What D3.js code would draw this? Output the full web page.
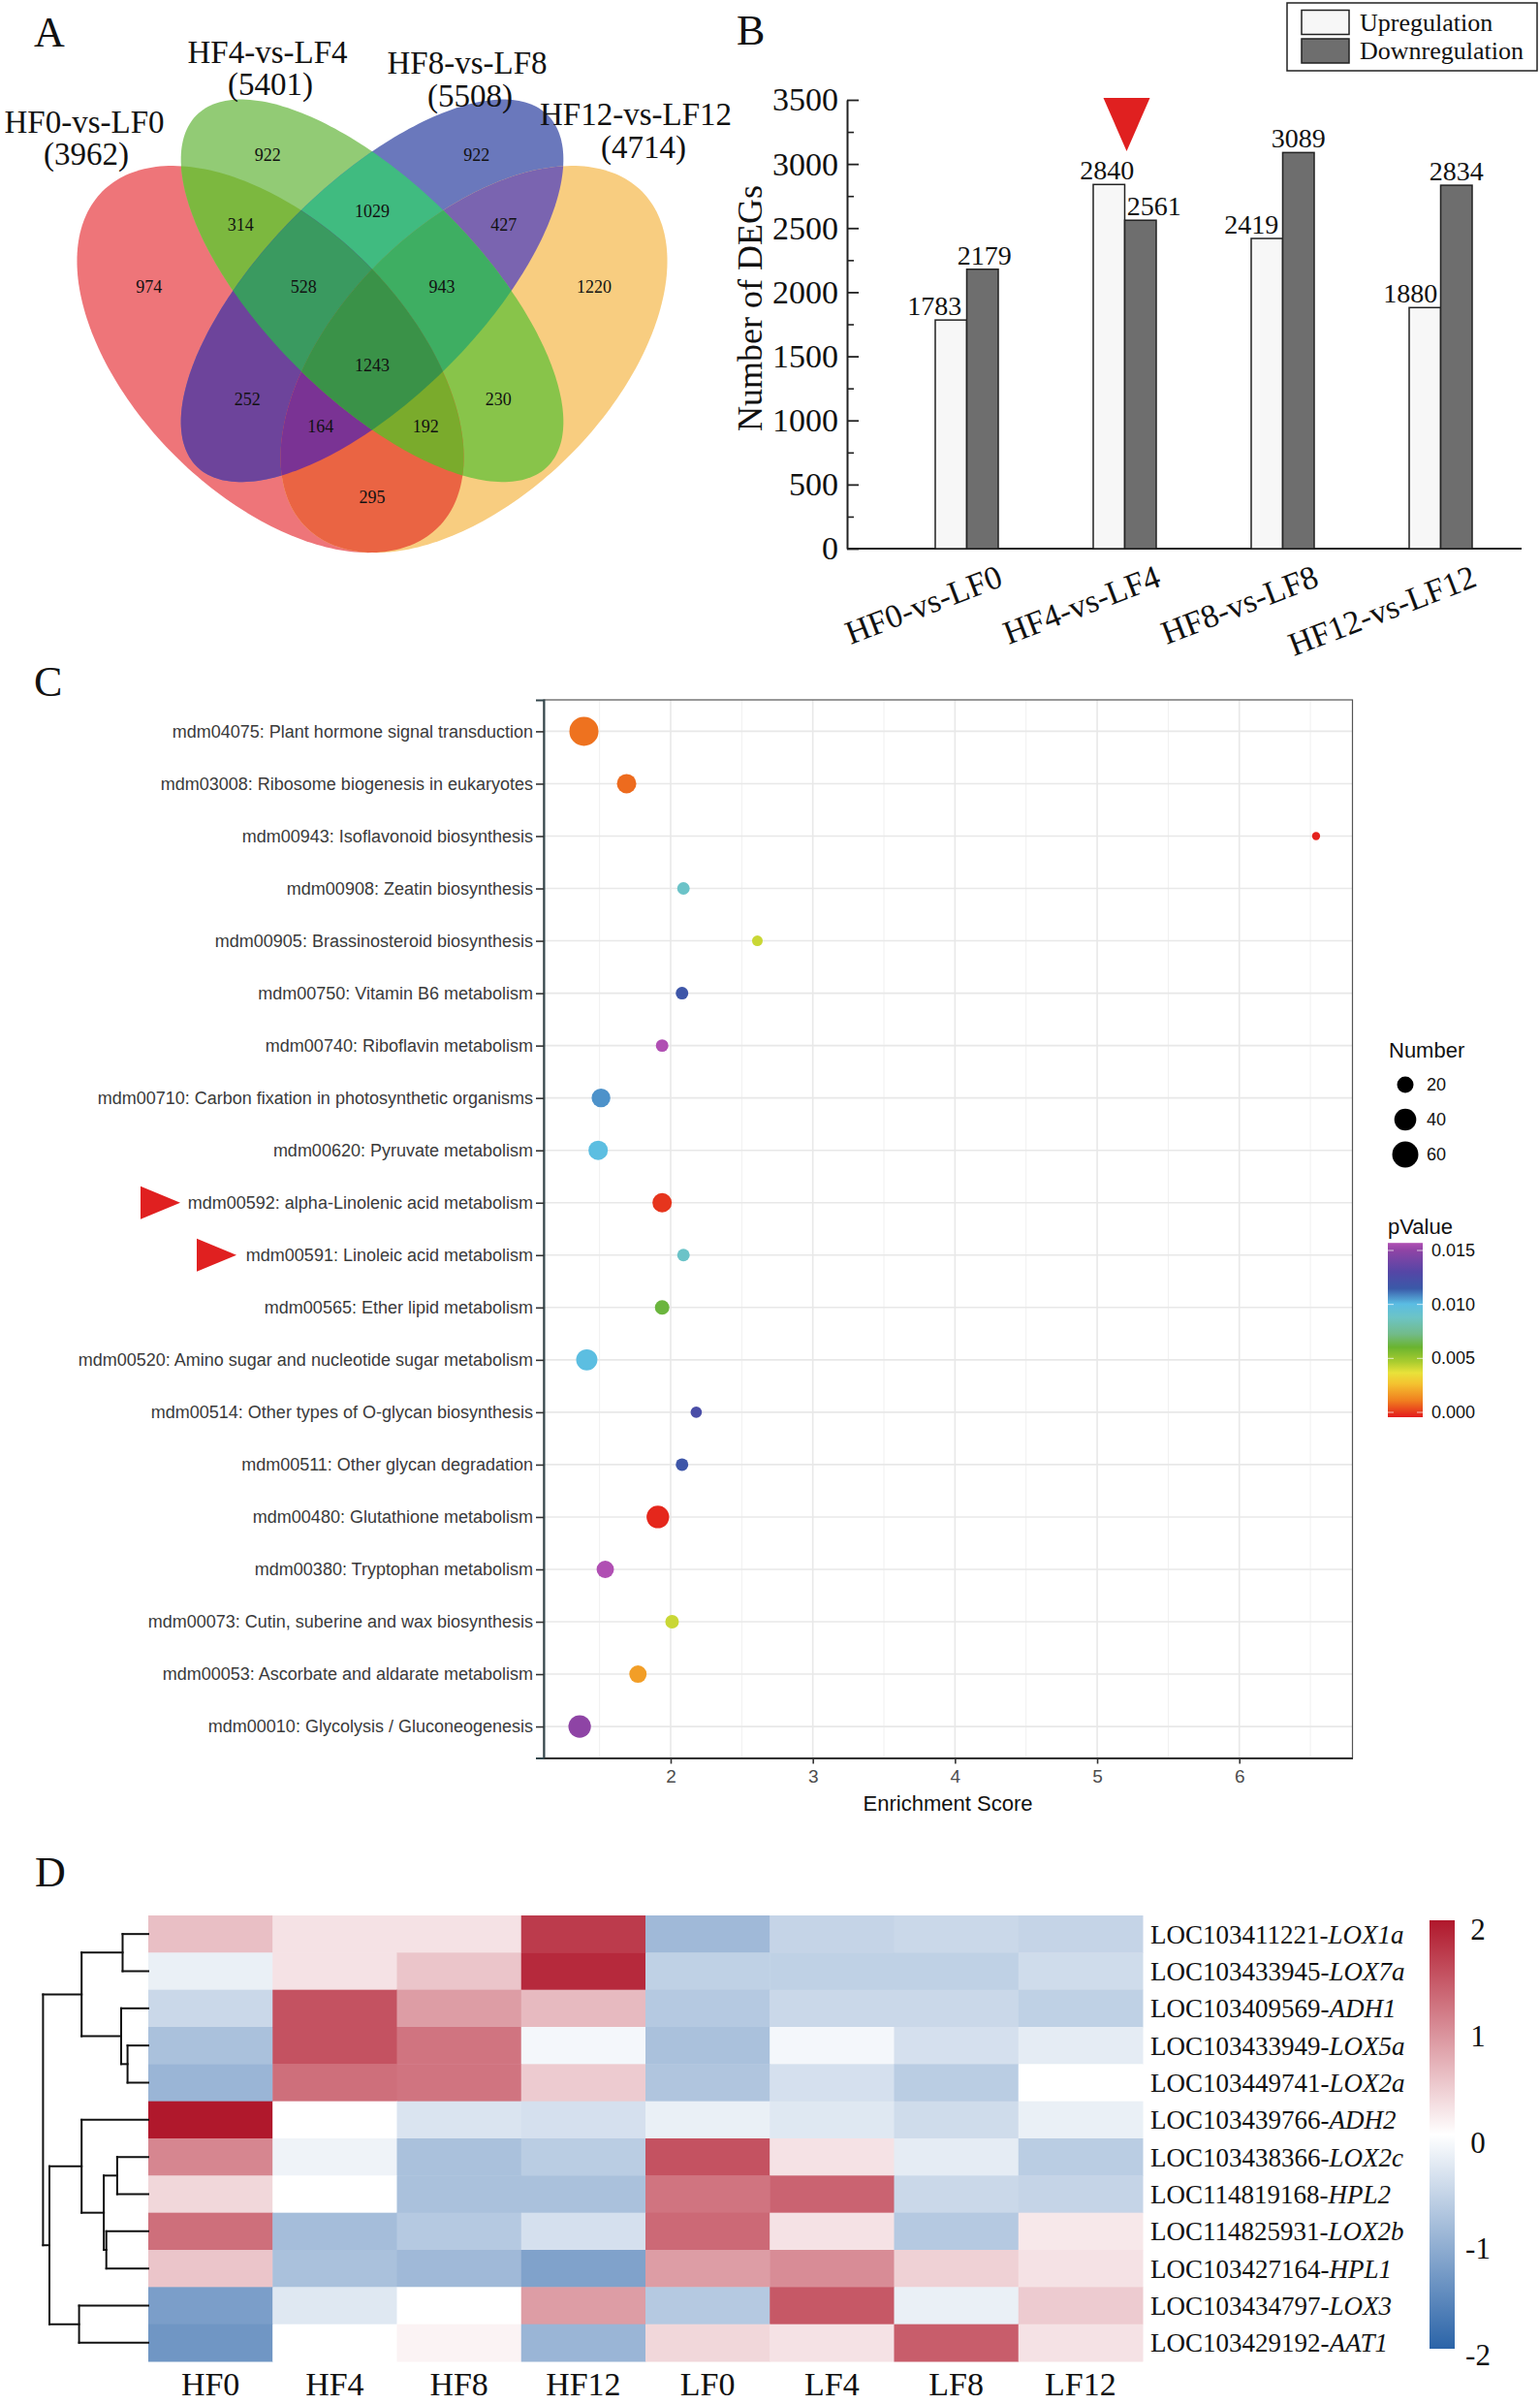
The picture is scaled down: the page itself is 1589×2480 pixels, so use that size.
<!DOCTYPE html>
<html>
<head>
<meta charset="utf-8">
<script src="https://cdn.jsdelivr.net/npm/d3@7"></script>
<style>
  body { margin: 0; background: #fff; }
  .serif { font-family: "Liberation Serif", "Times New Roman", serif; }
  .sans { font-family: "Liberation Sans", Arial, sans-serif; }
</style>
</head>
<body>
<script>
// ---------- A: Venn ----------
var vennSets = ["HF0-vs-LF0", "HF4-vs-LF4", "HF8-vs-LF8", "HF12-vs-LF12"];
var vennTotals = [3962, 5401, 5508, 4714];
// region counts, in the same order as vennRegions below
var vennCounts = [974, 922, 922, 1220, 314, 1029, 427, 528, 943, 1243, 252, 230, 164, 192, 295];

// ---------- B: DEG bars ----------
var comparisons = ["HF0-vs-LF0", "HF4-vs-LF4", "HF8-vs-LF8", "HF12-vs-LF12"];
var upCounts = [1783, 2840, 2419, 1880];
var downCounts = [2179, 2561, 3089, 2834];
var degTicks = [0, 500, 1000, 1500, 2000, 2500, 3000, 3500];

// ---------- C: KEGG bubbles ----------
var pathways = [
  "mdm04075: Plant hormone signal transduction",
  "mdm03008: Ribosome biogenesis in eukaryotes",
  "mdm00943: Isoflavonoid biosynthesis",
  "mdm00908: Zeatin biosynthesis",
  "mdm00905: Brassinosteroid biosynthesis",
  "mdm00750: Vitamin B6 metabolism",
  "mdm00740: Riboflavin metabolism",
  "mdm00710: Carbon fixation in photosynthetic organisms",
  "mdm00620: Pyruvate metabolism",
  "mdm00592: alpha-Linolenic acid metabolism",
  "mdm00591: Linoleic acid metabolism",
  "mdm00565: Ether lipid metabolism",
  "mdm00520: Amino sugar and nucleotide sugar metabolism",
  "mdm00514: Other types of O-glycan biosynthesis",
  "mdm00511: Other glycan degradation",
  "mdm00480: Glutathione metabolism",
  "mdm00380: Tryptophan metabolism",
  "mdm00073: Cutin, suberine and wax biosynthesis",
  "mdm00053: Ascorbate and aldarate metabolism",
  "mdm00010: Glycolysis / Gluconeogenesis"
];
var enrichScore = [1.39, 1.69, 6.54, 2.09, 2.61, 2.08, 1.94, 1.51, 1.49, 1.94, 2.09, 1.94, 1.41, 2.18, 2.08, 1.91, 1.54, 2.01, 1.77, 1.36];
var geneNumber = [65, 25, 2, 8, 5, 8, 8, 23, 25, 25, 8, 12, 31, 6, 8, 36, 19, 10, 19, 36];
var pValue = [0.0013, 0.0012, 0.0001, 0.0091, 0.0045, 0.0118, 0.0157, 0.0108, 0.0101, 0.0004, 0.0091, 0.0065, 0.0101, 0.0125, 0.0118, 0.0002, 0.0157, 0.0045, 0.0022, 0.0150];
var highlighted = ["mdm00592: alpha-Linolenic acid metabolism", "mdm00591: Linoleic acid metabolism"];
var sizeBreaks = [20, 40, 60];
var pBreaks = [0, 0.005, 0.010, 0.015];
var scoreTicks = [2, 3, 4, 5, 6];

// ---------- D: heatmap ----------
var samples = ["HF0", "HF4", "HF8", "HF12", "LF0", "LF4", "LF8", "LF12"];
var geneIds = ["LOC103411221", "LOC103433945", "LOC103409569", "LOC103433949", "LOC103449741", "LOC103439766",
               "LOC103438366", "LOC114819168", "LOC114825931", "LOC103427164", "LOC103434797", "LOC103429192"];
var geneSymbols = ["LOX1a", "LOX7a", "ADH1", "LOX5a", "LOX2a", "ADH2", "LOX2c", "HPL2", "LOX2b", "HPL1", "LOX3", "AAT1"];
var zScores = [
  [ 0.55,  0.25,  0.25,  1.70, -0.90, -0.55, -0.50, -0.55],
  [-0.20,  0.25,  0.50,  1.85, -0.60, -0.60, -0.60, -0.45],
  [-0.50,  1.50,  0.85,  0.60, -0.70, -0.50, -0.50, -0.60],
  [-0.80,  1.50,  1.20, -0.10, -0.80, -0.10, -0.40, -0.25],
  [-0.95,  1.25,  1.20,  0.45, -0.75, -0.40, -0.65,  0.00],
  [ 2.00,  0.00, -0.35, -0.40, -0.20, -0.30, -0.45, -0.20],
  [ 1.05, -0.15, -0.80, -0.65,  1.50,  0.25, -0.25, -0.65],
  [ 0.35,  0.00, -0.80, -0.80,  1.20,  1.35, -0.50, -0.55],
  [ 1.25, -0.85, -0.70, -0.40,  1.30,  0.25, -0.70,  0.20],
  [ 0.50, -0.80, -0.90, -1.20,  0.85,  1.00,  0.40,  0.25],
  [-1.25, -0.30,  0.00,  0.85, -0.70,  1.45, -0.20,  0.45],
  [-1.35,  0.00,  0.10, -0.95,  0.35,  0.25,  1.40,  0.25]
];
var zBreaks = [2, 1, 0, -1, -2];
// row clustering (merge heights)
var rowTree = { h: 108.6, children: [
  { h: 68.8, children: [
    { h: 26.5, children: [{ name: "LOX1a" }, { name: "LOX7a" }] },
    { h: 28, children: [{ name: "ADH1" }, { h: 21.4, children: [{ name: "LOX5a" }, { name: "LOX2a" }] }] }
  ] },
  { h: 102, children: [
    { h: 68.8, children: [
      { name: "ADH2" },
      { h: 45.9, children: [
        { h: 32.1, children: [{ name: "LOX2c" }, { name: "HPL2" }] },
        { h: 43.3, children: [{ name: "LOX2b" }, { name: "HPL1" }] }
      ] }
    ] },
    { h: 71.4, children: [{ name: "LOX3" }, { name: "AAT1" }] }
  ] }
] };

var width = 1589, height = 2480;
var svg = d3.select("body").append("svg")
    .attr("width", width)
    .attr("height", height)
    .style("display", "block");
svg.append("rect").attr("width", width).attr("height", height).attr("fill", "#fff");
var defs = svg.append("defs");

function panelLetter(t, x, y) {
  svg.append("text").attr("class", "serif").attr("x", x).attr("y", y)
    .attr("font-size", 44).attr("fill", "#111").text(t);
}

/* ================= A ================= */
panelLetter("A", 35, 48);

var vx = d3.scaleLinear().domain([0, 1]).range([34, 734]);
var vy = d3.scaleLinear().domain([0, 1]).range([701, 1]);
// one ellipse per set (HF0 red, HF4 green, HF8 blue, HF12 orange)
var ellipses = [
  { cx: 0.35, cy: 0.472, rot: 135, a: 0.35, b: 0.2 },
  { cx: 0.50, cy: 0.573, rot: 135, a: 0.366, b: 0.158 },
  { cx: 0.50, cy: 0.573, rot: 45, a: 0.366, b: 0.158 },
  { cx: 0.65, cy: 0.472, rot: 45, a: 0.35, b: 0.2 }
];
// membership of each counted region + its fill
var vennRegions = [[0], [1], [2], [3], [0, 1], [1, 2], [2, 3], [0, 1, 2], [1, 2, 3], [0, 1, 2, 3],
                   [0, 2], [1, 3], [0, 2, 3], [0, 1, 3], [0, 3]];
var regionColors = ["#ee7579", "#92cb75", "#6a78bc", "#f8cd80", "#7cb83f", "#40bb80", "#7a64b0", "#3a9a60",
                    "#3eae62", "#3a9248", "#6d449b", "#88c44a", "#7a3394", "#7aab2c", "#ea6443"];
var vennLabelPos = [[0.171, 0.579], [0.346, 0.773], [0.654, 0.773], [0.827, 0.579], [0.306, 0.670], [0.5, 0.691],
                    [0.694, 0.670], [0.399, 0.579], [0.603, 0.579], [0.5, 0.464], [0.316, 0.413], [0.686, 0.413],
                    [0.424, 0.373], [0.579, 0.373], [0.5, 0.269]];

var ellipseLine = d3.line().x(function (d) { return vx(d[0]); }).y(function (d) { return vy(d[1]); })
    .curve(d3.curveLinearClosed);
function ellipsePath(e) {
  var pts = [], th = e.rot * Math.PI / 180;
  for (var i = 0; i < 240; i++) {
    var t = i / 240 * 2 * Math.PI;
    pts.push([e.cx + e.a * Math.cos(t) * Math.cos(th) - e.b * Math.sin(t) * Math.sin(th),
              e.cy + e.a * Math.cos(t) * Math.sin(th) + e.b * Math.sin(t) * Math.cos(th)]);
  }
  return ellipseLine(pts);
}
ellipses.forEach(function (e, i) {
  defs.append("clipPath").attr("id", "vclip" + i).append("path").attr("d", ellipsePath(e));
});
// paint intersections from single sets up to all four, so each region ends with its own colour
var order = d3.range(vennRegions.length).sort(function (a, b) { return vennRegions[a].length - vennRegions[b].length; });
var gA = svg.append("g");
order.forEach(function (k) {
  var mem = vennRegions[k], g = gA;
  for (var j = 1; j < mem.length; j++) g = g.append("g").attr("clip-path", "url(#vclip" + mem[j] + ")");
  g.append("path").attr("d", ellipsePath(ellipses[mem[0]])).attr("fill", regionColors[k]);
});

gA.append("g").selectAll("text").data(vennCounts).enter().append("text")
    .attr("class", "serif")
    .attr("x", function (d, i) { return vx(vennLabelPos[i][0]); })
    .attr("y", function (d, i) { return vy(vennLabelPos[i][1]); })
    .attr("dy", "0.35em").attr("text-anchor", "middle")
    .attr("font-size", 18).attr("fill", "#111")
    .text(function (d) { return d; });

var setLabelPos = [[87, 137, 89, 170], [276, 65, 279, 98], [482, 76, 485, 110], [656, 129, 664, 163]];
vennSets.forEach(function (s, i) {
  var p = setLabelPos[i];
  svg.append("text").attr("class", "serif").attr("x", p[0]).attr("y", p[1])
    .attr("text-anchor", "middle").attr("font-size", 33).attr("fill", "#111").text(s);
  svg.append("text").attr("class", "serif").attr("x", p[2]).attr("y", p[3])
    .attr("text-anchor", "middle").attr("font-size", 33).attr("fill", "#111").text("(" + vennTotals[i] + ")");
});

/* ================= B ================= */
panelLetter("B", 760, 46);

var yB = d3.scaleLinear().domain([0, 3500]).range([566, 103]);
var xB = d3.scaleBand().domain(comparisons).range([916, 1568]);
var xSub = d3.scaleBand().domain(["up", "down"]).range([-32.5, 32.5]);

var gB = svg.append("g");
// minor ticks
gB.append("g").attr("transform", "translate(874,0)")
  .call(d3.axisLeft(yB).tickValues(d3.range(250, 3500, 500)).tickSizeInner(-7).tickSizeOuter(0).tickFormat(""))
  .call(function (g) { g.select(".domain").remove(); g.selectAll("line").attr("stroke", "#222").attr("stroke-width", 1.6); });
gB.append("g").attr("class", "serif").attr("transform", "translate(874,0)")
  .call(d3.axisLeft(yB).tickValues(degTicks).tickFormat(d3.format("d")).tickSizeInner(-12).tickSizeOuter(0).tickPadding(9))
  .call(function (g) {
    g.select(".domain").attr("stroke", "#222").attr("stroke-width", 2);
    g.selectAll("line").attr("stroke", "#222").attr("stroke-width", 1.8);
    g.selectAll("text").attr("font-size", 34).attr("fill", "#111").attr("font-family", "Liberation Serif");
  });
gB.append("line").attr("x1", 874).attr("x2", 1570).attr("y1", yB(0)).attr("y2", yB(0))
  .attr("stroke", "#222").attr("stroke-width", 2);

var barData = [];
comparisons.forEach(function (c, i) {
  barData.push({ c: c, k: "up", v: upCounts[i] });
  barData.push({ c: c, k: "down", v: downCounts[i] });
});
var labelShift = { up: [-17, -2, -16, -15], down: [2, 14, 0, 0] };
gB.selectAll("rect.bar").data(barData).enter().append("rect")
  .attr("x", function (d) { return xB(d.c) + xB.bandwidth() / 2 + xSub(d.k); })
  .attr("width", xSub.bandwidth())
  .attr("y", function (d) { return yB(d.v); })
  .attr("height", function (d) { return yB(0) - yB(d.v); })
  .attr("fill", function (d) { return d.k === "up" ? "#f7f7f7" : "#6e6e6e"; })
  .attr("stroke", "#222").attr("stroke-width", 1.5);
gB.selectAll("text.val").data(barData).enter().append("text")
  .attr("class", "serif")
  .attr("x", function (d) {
    var i = comparisons.indexOf(d.c);
    return xB(d.c) + xB.bandwidth() / 2 + xSub(d.k) + xSub.bandwidth() / 2 + labelShift[d.k][i];
  })
  .attr("y", function (d) { return yB(d.v) - 5; })
  .attr("text-anchor", "middle").attr("font-size", 28).attr("fill", "#111")
  .text(function (d) { return d.v; });
gB.selectAll("text.cat").data(comparisons).enter().append("text")
  .attr("class", "serif")
  .attr("transform", function (d) { return "translate(" + (xB(d) + xB.bandwidth() / 2 + 39) + ",604) rotate(-21)"; })
  .attr("text-anchor", "end").attr("font-size", 34).attr("fill", "#111")
  .text(function (d) { return d; });
gB.append("text").attr("class", "serif")
  .attr("transform", "translate(786,318) rotate(-90)")
  .attr("text-anchor", "middle").attr("font-size", 36).attr("fill", "#111").text("Number of DEGs");
// highlight marker above HF4-vs-LF4
var hx = xB("HF4-vs-LF4") + xB.bandwidth() / 2;
gB.append("path").attr("d", "M" + (hx - 22) + ",101L" + (hx + 26) + ",101L" + (hx + 2) + ",156Z").attr("fill", "#e02020");
// legend
var legB = gB.append("g");
legB.append("rect").attr("x", 1328).attr("y", 3).attr("width", 258).attr("height", 70)
  .attr("fill", "#fff").attr("stroke", "#222").attr("stroke-width", 1.5);
[["Upregulation", "#f7f7f7", 10.5], ["Downregulation", "#6e6e6e", 40]].forEach(function (l) {
  legB.append("rect").attr("x", 1343).attr("y", l[2]).attr("width", 49).attr("height", 25)
    .attr("fill", l[1]).attr("stroke", "#222").attr("stroke-width", 1.5);
  legB.append("text").attr("class", "serif").attr("x", 1403).attr("y", l[2] + 21)
    .attr("font-size", 26).attr("fill", "#111").text(l[0]);
});

/* ================= C ================= */
panelLetter("C", 35, 718);
var cL = 561, cR = 1395.5, cT = 722, cB = 1813.5;
var xC = d3.scaleLinear().domain([1.107, 6.796]).range([cL, cR]);
var yC = d3.scalePoint().domain(pathways).range([cT, cB]).padding(0.6);
var rC = d3.scaleSqrt().domain([1, 65]).range([3.5, 15]);
var pStops = [0, 0.0015, 0.0030, 0.0040, 0.0050, 0.0063, 0.0075, 0.0090, 0.0102, 0.0116, 0.0131, 0.0150, 0.0157];
var pColors = ["#e31a1c", "#f07f1f", "#f4c230", "#e9e23a", "#a9cc2f", "#6ab42f", "#72bb8a", "#6cc4c6", "#5bbde3",
               "#3a59a8", "#5546a6", "#8e44a5", "#b04fb3"];
var colC = d3.scaleLinear().domain(pStops).range(pColors);

var gC = svg.append("g");
gC.append("rect").attr("x", cL).attr("y", cT).attr("width", cR - cL).attr("height", cB - cT).attr("fill", "#fff");
gC.selectAll("line.minor").data(d3.range(1.5, 6.6, 1)).enter().append("line")
  .attr("x1", function (d) { return xC(d); }).attr("x2", function (d) { return xC(d); })
  .attr("y1", cT).attr("y2", cB).attr("stroke", "#f0f0f0").attr("stroke-width", 1);
gC.selectAll("line.vmaj").data(scoreTicks).enter().append("line")
  .attr("x1", function (d) { return xC(d); }).attr("x2", function (d) { return xC(d); })
  .attr("y1", cT).attr("y2", cB).attr("stroke", "#e8e8e8").attr("stroke-width", 1.6);
gC.selectAll("line.hmaj").data(pathways).enter().append("line")
  .attr("x1", cL).attr("x2", cR)
  .attr("y1", function (d) { return yC(d); }).attr("y2", function (d) { return yC(d); })
  .attr("stroke", "#e8e8e8").attr("stroke-width", 1.6);
gC.append("rect").attr("x", cL).attr("y", cT).attr("width", cR - cL).attr("height", cB - cT)
  .attr("fill", "none").attr("stroke", "#555").attr("stroke-width", 1.2);

gC.append("g").attr("class", "sans").attr("transform", "translate(" + cL + ",0)")
  .call(d3.axisLeft(yC).tickSize(8).tickPadding(3))
  .call(function (g) {
    g.select(".domain").attr("stroke", "#34474c").attr("stroke-width", 2);
    g.selectAll("line").attr("stroke", "#333").attr("stroke-width", 1.6);
    g.selectAll("text").attr("font-size", 18).attr("fill", "#3a3a3a").attr("font-family", "Liberation Sans");
  });
gC.append("g").attr("class", "sans").attr("transform", "translate(0," + cB + ")")
  .call(d3.axisBottom(xC).tickValues(scoreTicks).tickFormat(d3.format("d")).tickSize(6).tickPadding(6).tickSizeOuter(0))
  .call(function (g) {
    g.select(".domain").attr("stroke", "#333").attr("stroke-width", 2);
    g.selectAll("line").attr("stroke", "#333").attr("stroke-width", 1.6);
    g.selectAll("text").attr("font-size", 19).attr("fill", "#4d4d4d").attr("font-family", "Liberation Sans");
  });
gC.append("text").attr("class", "sans").attr("x", xC(3.95)).attr("y", 1868)
  .attr("text-anchor", "middle").attr("font-size", 22).attr("fill", "#111").text("Enrichment Score");

gC.selectAll("circle.pt").data(pathways).enter().append("circle")
  .attr("cx", function (d, i) { return xC(enrichScore[i]); })
  .attr("cy", function (d) { return yC(d); })
  .attr("r", function (d, i) { return rC(geneNumber[i]); })
  .attr("fill", function (d, i) { return colC(pValue[i]); });

// red pointers at the highlighted pathways
var pointerX = [186, 244];
gC.selectAll("path.ptr").data(highlighted).enter().append("path")
  .attr("d", function (d, i) {
    var y = yC(d), x = pointerX[i];
    return "M" + (x - 41) + "," + (y - 17) + "L" + x + "," + y + "L" + (x - 41) + "," + (y + 17) + "Z";
  })
  .attr("fill", "#e02020");

// size legend
gC.append("text").attr("class", "sans").attr("x", 1433).attr("y", 1091).attr("font-size", 22).attr("fill", "#111").text("Number");
var legY = d3.scalePoint().domain(sizeBreaks).range([1119, 1191]);
gC.selectAll("circle.lg").data(sizeBreaks).enter().append("circle")
  .attr("cx", 1450).attr("cy", function (d) { return legY(d); })
  .attr("r", function (d) { return rC(d) * 0.93; }).attr("fill", "#000");
gC.selectAll("text.lg").data(sizeBreaks).enter().append("text").attr("class", "sans")
  .attr("x", 1472).attr("y", function (d) { return legY(d) + 6; })
  .attr("font-size", 18).attr("fill", "#111").text(function (d) { return d; });

// colour bar
gC.append("text").attr("class", "sans").attr("x", 1432).attr("y", 1273).attr("font-size", 22).attr("fill", "#111").text("pValue");
var pY = d3.scaleLinear().domain([0, 0.015]).range([1457, 1290]);
var gradP = defs.append("linearGradient").attr("id", "gradP").attr("x1", 0).attr("x2", 0).attr("y1", 1).attr("y2", 0);
var pTop = 0.0157;
pStops.forEach(function (s, i) {
  gradP.append("stop").attr("offset", s / pTop).attr("stop-color", pColors[i]);
});
gC.append("rect").attr("x", 1432).attr("y", pY(pTop)).attr("width", 36).attr("height", pY(0) + 5 - pY(pTop))
  .attr("fill", "url(#gradP)");
gC.selectAll("g.ptk").data(pBreaks).enter().append("g").each(function (d) {
  var g = d3.select(this);
  g.append("line").attr("x1", 1432).attr("x2", 1438).attr("y1", pY(d)).attr("y2", pY(d)).attr("stroke", "#fff").attr("stroke-opacity", 0.7);
  g.append("line").attr("x1", 1462).attr("x2", 1468).attr("y1", pY(d)).attr("y2", pY(d)).attr("stroke", "#fff").attr("stroke-opacity", 0.7);
});
gC.selectAll("text.pb").data(pBreaks).enter().append("text").attr("class", "sans")
  .attr("x", 1477).attr("y", function (d) { return pY(d) + 6; })
  .attr("font-size", 18).attr("fill", "#111").text(function (d) { return d3.format(".3f")(d); });

/* ================= D ================= */
panelLetter("D", 36, 1946);
var xD = d3.scaleBand().domain(samples).range([153, 1179]);
var yD = d3.scaleBand().domain(geneSymbols).range([1976, 2436]);
var colD = d3.scaleLinear().domain([-2, 0, 2]).range(["#2b64a8", "#ffffff", "#b0182c"]);

var cells = [];
geneSymbols.forEach(function (g, r) {
  samples.forEach(function (s, c) { cells.push({ g: g, s: s, v: zScores[r][c] }); });
});
var gD = svg.append("g");
gD.selectAll("rect.cell").data(cells).enter().append("rect")
  .attr("x", function (d) { return xD(d.s); })
  .attr("y", function (d) { return yD(d.g); })
  .attr("width", xD.bandwidth() + 0.5)
  .attr("height", yD.bandwidth() + 0.5)
  .attr("fill", function (d) { return colD(d.v); });

var rowLab = gD.selectAll("text.row").data(geneSymbols).enter().append("text")
  .attr("class", "serif")
  .attr("x", 1187).attr("y", function (d) { return yD(d) + yD.bandwidth() / 2 + 9.5; })
  .attr("font-size", 27).attr("fill", "#111");
rowLab.append("tspan").text(function (d, i) { return geneIds[i] + "-"; });
rowLab.append("tspan").attr("font-style", "italic").text(function (d) { return d; });

gD.selectAll("text.col").data(samples).enter().append("text")
  .attr("class", "serif")
  .attr("x", function (d) { return xD(d) + xD.bandwidth() / 2; })
  .attr("y", 2471).attr("text-anchor", "middle").attr("font-size", 34).attr("fill", "#111")
  .text(function (d) { return d; });

// dendrogram
var root = d3.hierarchy(rowTree);
var xDen = d3.scaleLinear().domain([0, 108.6]).range([153, 44.4]);
root.eachAfter(function (n) {
  n.px = xDen(n.children ? n.data.h : 0);
  n.py = n.children ? d3.mean(n.children, function (c) { return c.py; }) : yD(n.data.name) + yD.bandwidth() / 2;
});
var denSegs = [];
root.each(function (n) {
  if (!n.children) return;
  denSegs.push([n.px, n.children[0].py, n.px, n.children[n.children.length - 1].py]);
  n.children.forEach(function (c) { denSegs.push([n.px, c.py, c.px, c.py]); });
});
gD.selectAll("line.den").data(denSegs).enter().append("line")
  .attr("x1", function (d) { return d[0]; }).attr("y1", function (d) { return d[1]; })
  .attr("x2", function (d) { return d[2]; }).attr("y2", function (d) { return d[3]; })
  .attr("stroke", "#111").attr("stroke-width", 2).attr("stroke-linecap", "square");

// colour key
var zY = d3.scaleLinear().domain([-2, 2]).range([2429, 1990]);
var gradZ = defs.append("linearGradient").attr("id", "gradZ").attr("x1", 0).attr("x2", 0).attr("y1", 1).attr("y2", 0);
[-2, 0, 2].forEach(function (v) {
  gradZ.append("stop").attr("offset", (v + 2) / 4).attr("stop-color", colD(v));
});
gD.append("rect").attr("x", 1475).attr("y", 1981).attr("width", 26).attr("height", 442).attr("fill", "url(#gradZ)");
gD.selectAll("text.z").data(zBreaks).enter().append("text").attr("class", "serif")
  .attr("x", 1525).attr("y", function (d) { return zY(d) + 11; })
  .attr("text-anchor", "middle").attr("font-size", 31).attr("fill", "#111")
  .text(function (d) { return d; });
</script>
</body>
</html>
